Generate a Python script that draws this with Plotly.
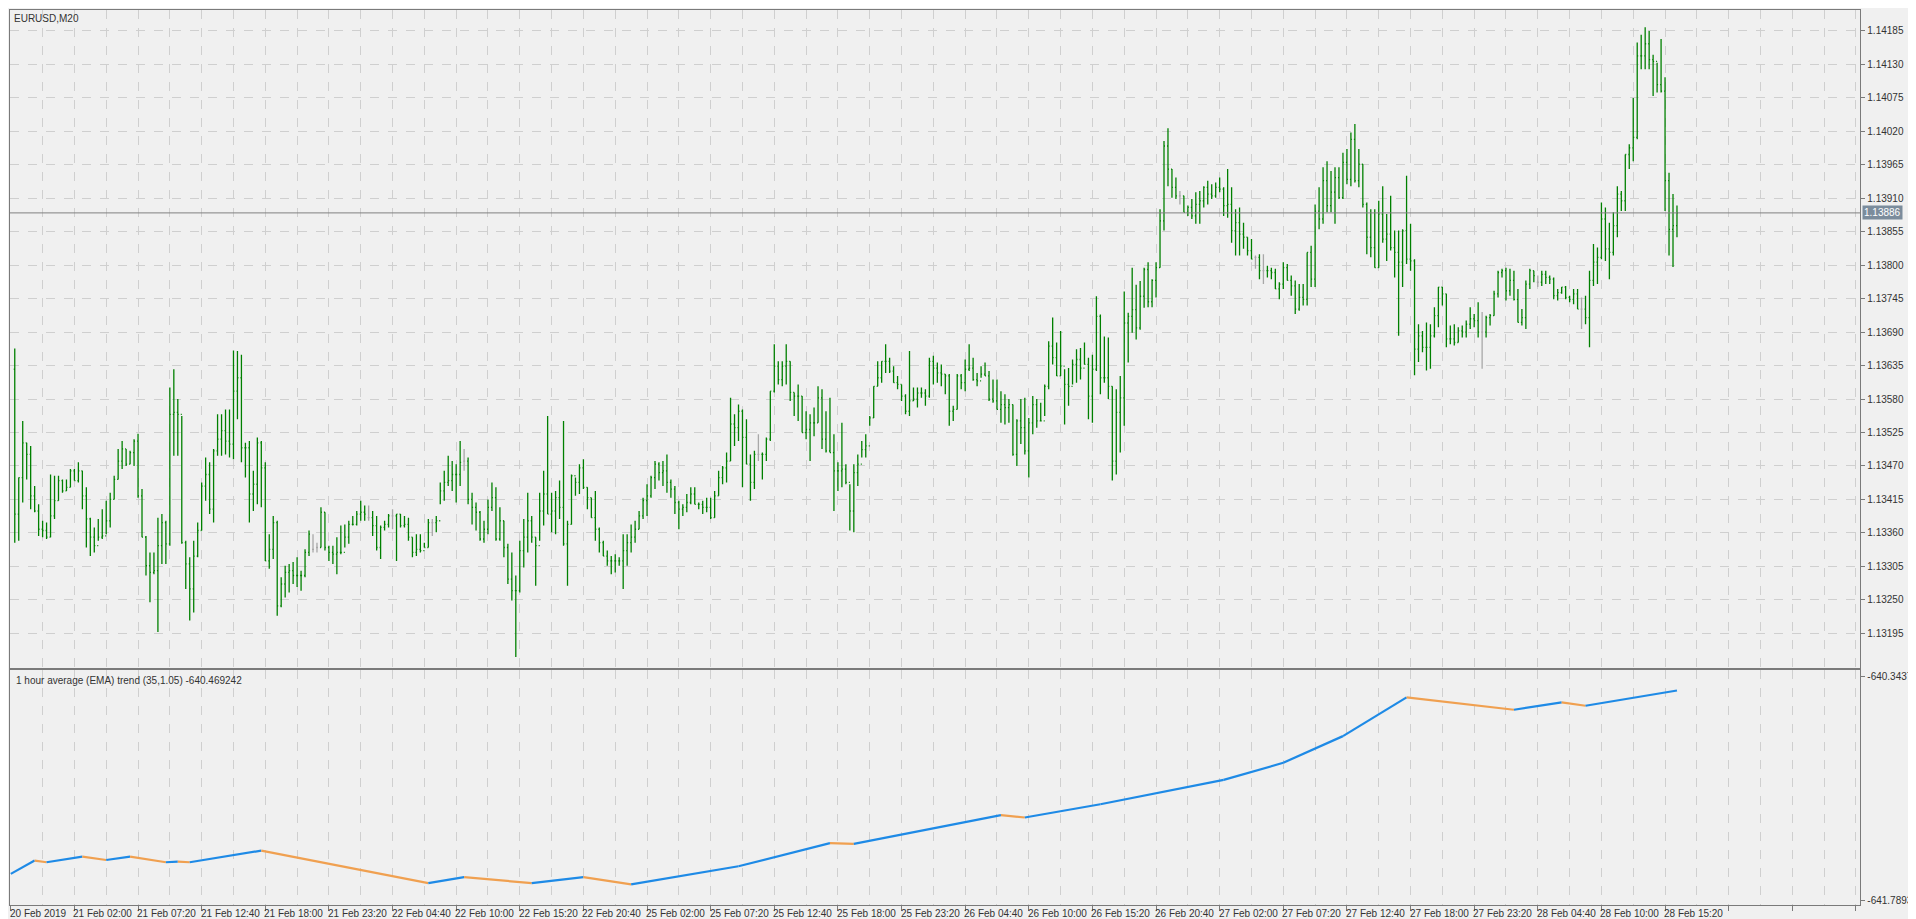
import plotly.graph_objects as go

# bar data in points (1e-5), one bar every 20 minutes
bar_high = [
    113664, 113663, 113451, 113544, 113508, 113503, 113437, 113407, 113380, 113377,
    113456, 113454, 113454, 113448, 113448, 113465, 113465, 113476, 113462, 113435,
    113385, 113369, 113383, 113399, 113413, 113426, 113454, 113498, 113511, 113498,
    113495, 113514, 113523, 113432, 113355, 113328, 113328, 113385, 113391, 113380,
    113599, 113629, 113580, 113552, 113347, 113320, 113347, 113377, 113443, 113484,
    113476, 113498, 113555, 113555, 113563, 113563, 113660, 113659, 113653, 113508,
    113511, 113462, 113517, 113511, 113476, 113358, 113388, 113380, 113287, 113306,
    113309, 113312, 113320, 113298, 113333, 113364, 113358, 113344, 113402, 113394,
    113339, 113339, 113353, 113372, 113374, 113380, 113388, 113396, 113413, 113405,
    113405, 113396, 113388, 113372, 113380, 113391, 113399, 113391, 113391, 113388,
    113385, 113353, 113358, 113358, 113344, 113383, 113383, 113388, 113443, 113462,
    113487, 113478, 113473, 113511, 113498, 113484, 113426, 113410, 113396, 113380,
    113415, 113443, 113435, 113402, 113380, 113342, 113328, 113290, 113347, 113383,
    113426, 113388, 113353, 113426, 113462, 113552, 113426, 113429, 113446, 113544,
    113380, 113456, 113451, 113473, 113481, 113435, 113418, 113429, 113369, 113347,
    113331, 113322, 113325, 113320, 113358, 113358, 113374, 113380, 113396, 113418,
    113440, 113454, 113478, 113476, 113478, 113489, 113448, 113437, 113413, 113407,
    113424, 113435, 113435, 113410, 113413, 113418, 113418, 113429, 113462, 113470,
    113492, 113582, 113555, 113571, 113563, 113547, 113489, 113495, 113522, 113492,
    113517, 113593, 113670, 113642, 113642, 113670, 113642, 113591, 113604, 113585,
    113560, 113555, 113566, 113601, 113596, 113560, 113582, 113522, 113476, 113541,
    113473, 113440, 113473, 113489, 113511, 113522, 113552, 113601, 113642, 113642,
    113670, 113648, 113634, 113618, 113604, 113588, 113659, 113599, 113599, 113599,
    113596, 113648, 113651, 113640, 113637, 113621, 113621, 113569, 113621, 113621,
    113645, 113670, 113648, 113623, 113634, 113640, 113626, 113612, 113612, 113593,
    113588, 113580, 113571, 113547, 113580, 113582, 113549, 113585, 113580, 113574,
    113604, 113675, 113714, 113673, 113692, 113629, 113631, 113645, 113662, 113664,
    113673, 113648, 113653, 113749, 113719, 113683, 113681, 113601, 113596, 113618,
    113757, 113722, 113796, 113768, 113774, 113796, 113805, 113777, 113805, 113892,
    114004, 114025, 113958, 113944, 113922, 113914, 113898, 113909, 113920, 113922,
    113930, 113939, 113933, 113936, 113944, 113928, 113958, 113928, 113892, 113895,
    113870, 113846, 113843, 113816, 113818, 113818, 113799, 113796, 113794, 113772,
    113805, 113802, 113783, 113775, 113769, 113769, 113821, 113832, 113900, 113928,
    113961, 113971, 113955, 113961, 113961, 113985, 113991, 114018, 114032, 113991,
    113966, 113903, 113892, 113892, 113906, 113930, 113884, 113914, 113857, 113857,
    113859, 113947, 113868, 113810, 113703, 113692, 113706, 113703, 113731, 113764,
    113764, 113753, 113701, 113703, 113698, 113701, 113709, 113731, 113720, 113739,
    113723, 113717, 113720, 113758, 113791, 113794, 113796, 113794, 113791, 113761,
    113728, 113775, 113794, 113791, 113783, 113791, 113791, 113783, 113780, 113761,
    113764, 113766, 113750, 113761, 113761, 113747, 113750, 113791, 113835, 113829,
    113903, 113895, 113870, 113887, 113930, 113922, 113982, 113999, 114075, 114166,
    114179, 114191, 114185, 114146, 114133, 114172, 114109, 113952, 113917, 113898,
]
bar_low = [
    113590, 113344, 113347, 113410, 113448, 113399, 113394, 113355, 113353, 113350,
    113353, 113383, 113413, 113426, 113429, 113435, 113446, 113443, 113399, 113336,
    113322, 113328, 113347, 113350, 113358, 113369, 113415, 113448, 113465, 113470,
    113473, 113470, 113418, 113353, 113290, 113246, 113292, 113197, 113309, 113309,
    113339, 113487, 113487, 113342, 113268, 113216, 113229, 113320, 113364, 113413,
    113391, 113377, 113487, 113487, 113489, 113484, 113481, 113547, 113476, 113451,
    113377, 113396, 113407, 113402, 113314, 113301, 113317, 113224, 113238, 113254,
    113262, 113276, 113271, 113265, 113287, 113322, 113328, 113328, 113336, 113331,
    113314, 113309, 113292, 113325, 113336, 113342, 113372, 113372, 113380, 113380,
    113380, 113355, 113331, 113317, 113364, 113369, 113366, 113314, 113369, 113369,
    113347, 113320, 113322, 113328, 113336, 113336, 113355, 113361, 113407, 113413,
    113437, 113429, 113410, 113437, 113462, 113407, 113374, 113364, 113347, 113344,
    113358, 113396, 113347, 113347, 113320, 113276, 113249, 113156, 113262, 113303,
    113328, 113344, 113273, 113347, 113372, 113391, 113361, 113358, 113383, 113339,
    113273, 113374, 113421, 113424, 113432, 113399, 113385, 113347, 113328, 113322,
    113306, 113292, 113295, 113306, 113268, 113306, 113328, 113344, 113366, 113383,
    113388, 113418, 113432, 113446, 113437, 113426, 113418, 113391, 113366, 113388,
    113394, 113407, 113407, 113399, 113391, 113394, 113383, 113385, 113421, 113440,
    113443, 113478, 113503, 113511, 113435, 113473, 113413, 113432, 113478, 113448,
    113478, 113511, 113591, 113604, 113601, 113604, 113577, 113552, 113544, 113525,
    113514, 113478, 113519, 113541, 113498, 113492, 113492, 113396, 113429, 113435,
    113440, 113364, 113361, 113437, 113484, 113484, 113536, 113549, 113601, 113607,
    113623, 113623, 113607, 113596, 113577, 113555, 113552, 113577, 113566, 113582,
    113569, 113582, 113604, 113607, 113601, 113588, 113536, 113544, 113563, 113596,
    113593, 113626, 113610, 113601, 113615, 113618, 113577, 113574, 113563, 113541,
    113538, 113541, 113487, 113470, 113506, 113489, 113451, 113522, 113533, 113544,
    113552, 113596, 113637, 113618, 113618, 113538, 113569, 113604, 113607, 113612,
    113637, 113547, 113541, 113626, 113588, 113607, 113580, 113446, 113456, 113492,
    113536, 113640, 113689, 113678, 113694, 113730, 113731, 113731, 113747, 113796,
    113857, 113930, 113911, 113909, 113900, 113887, 113881, 113876, 113868, 113868,
    113895, 113900, 113909, 113911, 113920, 113881, 113878, 113837, 113816, 113816,
    113827, 113816, 113810, 113794, 113777, 113769, 113780, 113777, 113761, 113744,
    113761, 113775, 113750, 113720, 113725, 113734, 113734, 113764, 113764, 113859,
    113868, 113887, 113887, 113868, 113909, 113909, 113933, 113930, 113936, 113928,
    113895, 113818, 113813, 113796, 113796, 113837, 113807, 113824, 113780, 113684,
    113764, 113802, 113791, 113619, 113641, 113657, 113627, 113630, 113681, 113698,
    113734, 113665, 113670, 113668, 113673, 113681, 113681, 113695, 113698, 113681,
    113630, 113681, 113701, 113717, 113747, 113780, 113742, 113750, 113742, 113706,
    113701, 113695, 113761, 113772, 113764, 113766, 113769, 113769, 113744, 113742,
    113753, 113744, 113739, 113736, 113728, 113695, 113703, 113665, 113766, 113769,
    113810, 113807, 113777, 113816, 113846, 113889, 113889, 113958, 113971, 114007,
    114122, 114122, 114122, 114078, 114084, 114084, 113889, 113816, 113797, 113846,
]
bar_close = [
    113629, 113391, 113451, 113508, 113489, 113421, 113396, 113366, 113364, 113353,
    113388, 113413, 113446, 113429, 113435, 113462, 113446, 113462, 113421, 113383,
    113353, 113339, 113353, 113355, 113380, 113415, 113448, 113478, 113498, 113473,
    113492, 113511, 113421, 113353, 113306, 113295, 113298, 113339, 113377, 113342,
    113555, 113558, 113555, 113344, 113309, 113268, 113322, 113364, 113437, 113456,
    113399, 113495, 113514, 113528, 113511, 113506, 113593, 113615, 113500, 113500,
    113424, 113440, 113508, 113467, 113314, 113333, 113377, 113240, 113276, 113295,
    113298, 113290, 113290, 113290, 113328, 113358, 113333, 113336, 113394, 113336,
    113328, 113325, 113328, 113328, 113353, 113374, 113374, 113391, 113394, 113391,
    113385, 113372, 113336, 113369, 113374, 113388, 113388, 113391, 113372, 113374,
    113353, 113328, 113333, 113331, 113336, 113377, 113377, 113380, 113429, 113443,
    113446, 113456, 113456, 113476, 113478, 113415, 113402, 113394, 113350, 113366,
    113402, 113418, 113350, 113380, 113336, 113284, 113265, 113265, 113331, 113353,
    113380, 113353, 113339, 113396, 113424, 113391, 113396, 113418, 113402, 113342,
    113374, 113454, 113443, 113467, 113435, 113418, 113385, 113366, 113344, 113322,
    113314, 113314, 113314, 113314, 113331, 113344, 113353, 113366, 113388, 113413,
    113421, 113451, 113473, 113459, 113462, 113443, 113432, 113410, 113399, 113402,
    113410, 113424, 113407, 113407, 113402, 113402, 113385, 113421, 113451, 113467,
    113478, 113539, 113533, 113560, 113517, 113473, 113443, 113489, 113489, 113489,
    113514, 113593, 113634, 113612, 113634, 113642, 113591, 113585, 113585, 113525,
    113530, 113541, 113541, 113582, 113514, 113495, 113492, 113462, 113462, 113465,
    113443, 113396, 113459, 113473, 113497, 113503, 113549, 113601, 113615, 113642,
    113642, 113626, 113607, 113604, 113585, 113560, 113577, 113580, 113590, 113590,
    113585, 113642, 113631, 113623, 113621, 113618, 113560, 113563, 113618, 113607,
    113629, 113631, 113612, 113610, 113621, 113618, 113580, 113577, 113563, 113571,
    113566, 113571, 113489, 113544, 113533, 113495, 113541, 113571, 113544, 113544,
    113601, 113667, 113648, 113618, 113634, 113604, 113601, 113637, 113645, 113631,
    113637, 113585, 113629, 113716, 113615, 113615, 113601, 113478, 113558, 113582,
    113705, 113716, 113727, 113697, 113749, 113793, 113740, 113775, 113796, 113873,
    113996, 113958, 113928, 113914, 113914, 113887, 113895, 113881, 113900, 113906,
    113928, 113917, 113914, 113928, 113925, 113898, 113900, 113857, 113870, 113851,
    113846, 113824, 113810, 113813, 113791, 113791, 113791, 113788, 113761, 113769,
    113796, 113775, 113766, 113728, 113747, 113744, 113821, 113777, 113889, 113876,
    113939, 113898, 113920, 113944, 113911, 113969, 113941, 114007, 113939, 113966,
    113900, 113846, 113829, 113796, 113884, 113843, 113851, 113829, 113821, 113805,
    113857, 113810, 113807, 113662, 113684, 113665, 113665, 113684, 113717, 113764,
    113753, 113679, 113679, 113673, 113692, 113690, 113703, 113712, 113709, 113690,
    113690, 113714, 113717, 113753, 113788, 113791, 113758, 113775, 113744, 113706,
    113714, 113769, 113791, 113783, 113772, 113785, 113780, 113777, 113750, 113755,
    113764, 113747, 113744, 113753, 113728, 113728, 113714, 113775, 113805, 113813,
    113876, 113827, 113821, 113865, 113917, 113906, 113982, 113993, 114010, 114144,
    114144, 114164, 114138, 114135, 114097, 114086, 113939, 113859, 113865, 113886,
]
# bars drawn grey (open == close)
doji_bars = [76, 77, 90, 96, 106, 114, 188, 294, 313, 315, 370, 384, 395]
# first bar hidden behind the left border, only its close feeds the next open
first_shown = 1

last_price = 1.13886

# EMA trend indicator: vertices (bar index, value) and colour of segment starting there
ema_bar = [0, 6, 9, 18, 24, 30, 39, 42, 45, 63, 105, 114, 131, 144, 156, 183, 206,
           212, 249, 255, 274, 305, 320, 335, 351, 378, 390, 396, 419]
ema_val = [-641.6204, -641.5343, -641.5452, -641.5086, -641.5305, -641.5086, -641.5452,
           -641.5410, -641.5452, -641.4701, -641.6802, -641.6416, -641.6802, -641.6416,
           -641.6885, -641.5709, -641.4219, -641.4264, -641.2413, -641.2561, -641.1707,
           -641.0133, -640.9028, -640.7306, -640.4800, -640.5603, -640.5128, -640.5346,
           -640.4357]
ema_up = [1, 0, 1, 0, 1, 0, 1, 0, 1, 0, 1, 0, 1, 0, 1, 1, 0,
          1, 0, 1, 1, 1, 1, 1, 0, 1, 0, 1]

price_ticks = ["1.13195", "1.13250", "1.13305", "1.13360", "1.13415", "1.13470", "1.13525",
               "1.13580", "1.13635", "1.13690", "1.13745", "1.13800", "1.13855", "1.13910",
               "1.13965", "1.14020", "1.14075", "1.14130", "1.14185"]
ind_ticks = ["-640.343791", "-641.789378"]
date_labels = ["20 Feb 2019", "21 Feb 02:00", "21 Feb 07:20", "21 Feb 12:40", "21 Feb 18:00",
               "21 Feb 23:20", "22 Feb 04:40", "22 Feb 10:00", "22 Feb 15:20", "22 Feb 20:40",
               "25 Feb 02:00", "25 Feb 07:20", "25 Feb 12:40", "25 Feb 18:00", "25 Feb 23:20",
               "26 Feb 04:40", "26 Feb 10:00", "26 Feb 15:20", "26 Feb 20:40", "27 Feb 02:00",
               "27 Feb 07:20", "27 Feb 12:40", "27 Feb 18:00", "27 Feb 23:20", "28 Feb 04:40",
               "28 Feb 10:00", "28 Feb 15:20"]
label_step = 16

GREEN = "#008000"
GREY_BAR = "#a8a8a8"
BLUE = "#1e8ae6"
ORANGE = "#f0a050"
GRID = "#cfcfcf"
BORDER = "#7a7a7a"
BG = "#f0f0f0"
FONT = dict(family="Liberation Sans, Arial, sans-serif", size=10, color="#333333")

# opens = previous close, except dojis
opens = []
for i in range(len(bar_close)):
    if i in doji_bars or i == 0:
        opens.append(bar_close[i])
    else:
        opens.append(bar_close[i - 1])


def sel(arr, idx):
    return [arr[i] / 1e5 for i in idx]


normal = [i for i in range(first_shown, len(bar_close)) if i not in doji_bars]

fig = go.Figure()
fig.add_trace(go.Ohlc(
    x=normal, open=sel(opens, normal), high=sel(bar_high, normal),
    low=sel(bar_low, normal), close=sel(bar_close, normal),
    increasing=dict(line=dict(color=GREEN, width=1.3)),
    decreasing=dict(line=dict(color=GREEN, width=1.3)),
    tickwidth=0.25, xaxis="x", yaxis="y", showlegend=False, hoverinfo="skip"))
fig.add_trace(go.Ohlc(
    x=doji_bars, open=sel(opens, doji_bars), high=sel(bar_high, doji_bars),
    low=sel(bar_low, doji_bars), close=sel(bar_close, doji_bars),
    increasing=dict(line=dict(color=GREY_BAR, width=1.3)),
    decreasing=dict(line=dict(color=GREY_BAR, width=1.3)),
    tickwidth=0.25, xaxis="x", yaxis="y", showlegend=False, hoverinfo="skip"))

# indicator segments
for i in range(len(ema_up)):
    fig.add_trace(go.Scatter(
        x=ema_bar[i:i + 2], y=ema_val[i:i + 2], mode="lines",
        line=dict(color=BLUE if ema_up[i] else ORANGE, width=2.2),
        xaxis="x2", yaxis="y2", showlegend=False, hoverinfo="skip"))

W, H = 1916, 919
x_dom = [2 / W, 1863 / W]
y_main = [1 - 661 / H, 1 - 2 / H]
y_ind = [1 - 898 / H, 1 - 663 / H]
x_rng = [-0.2, 465.1]

grid_x = dict(range=x_rng, showgrid=True, gridcolor=GRID, griddash="dash", gridwidth=1,
              dtick=label_step, tick0=0, showticklabels=False, zeroline=False,
              showline=True, linecolor=BORDER, mirror=True,
              minor=dict(dtick=label_step // 2, tick0=0, showgrid=True, gridcolor=GRID,
                         griddash="dash", ticks=""),
              rangeslider=dict(visible=False))

fig.update_layout(
    width=W, height=H, margin=dict(l=0, r=0, t=0, b=0),
    paper_bgcolor=BG, plot_bgcolor=BG, font=FONT,
    xaxis=dict(domain=x_dom, anchor="y", ticks="", **grid_x),
    xaxis2=dict(domain=x_dom, anchor="y2", matches="x", ticks="outside", ticklen=5,
                tickcolor=BORDER, **grid_x),
    yaxis=dict(domain=y_main, side="right", range=[1.131375, 1.142195],
               tickvals=[float(t) for t in price_ticks], ticktext=price_ticks,
               ticks="outside", ticklen=4, tickcolor=BORDER, showgrid=True,
               gridcolor=GRID, griddash="dash", zeroline=False, showline=True,
               linecolor=BORDER, mirror=True, tickfont=FONT),
    yaxis2=dict(domain=y_ind, side="right", range=[-641.8215, -640.3053],
                tickvals=[float(t) for t in ind_ticks], ticktext=ind_ticks,
                ticks="outside", ticklen=4, tickcolor=BORDER, showgrid=False,
                zeroline=False, showline=True, linecolor=BORDER, mirror=True,
                tickfont=FONT),
)

# current price line and label
fig.add_shape(type="line", xref="paper", x0=x_dom[0], x1=x_dom[1], yref="y",
              y0=last_price, y1=last_price, line=dict(color="#808080", width=1))
fig.add_annotation(xref="paper", x=x_dom[1] + 2 / W, yref="y", y=last_price,
                   text=f"{last_price:.5f}", showarrow=False, xanchor="left",
                   bgcolor="#7b8c9c", font=dict(FONT, color="white"),
                   borderpad=1)

fig.add_annotation(xref="paper", yref="paper", x=4 / W, y=1 - 3 / H, text="EURUSD,M20",
                   showarrow=False, xanchor="left", yanchor="top", font=FONT)
fig.add_annotation(xref="paper", yref="paper", x=6 / W, y=1 - 666 / H,
                   text="1 hour average (EMA) trend (35,1.05) -640.469242",
                   showarrow=False, xanchor="left", yanchor="top", font=FONT)

for j, lab in enumerate(date_labels):
    fig.add_annotation(xref="x2", yref="paper", x=j * label_step, y=1 - 899 / H, text=lab,
                       showarrow=False, xanchor="left", yanchor="top", xshift=-3,
                       font=FONT)

fig.write_html("out.html")
